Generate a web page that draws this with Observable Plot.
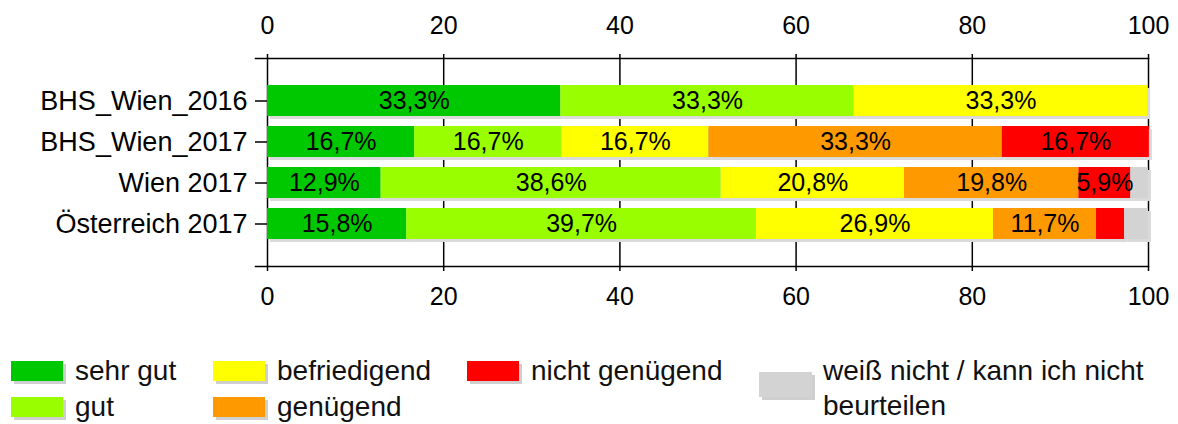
<!DOCTYPE html>
<html><head><meta charset="utf-8">
<script src="https://cdn.jsdelivr.net/npm/d3@7"></script>
<script src="https://cdn.jsdelivr.net/npm/@observablehq/plot@0.6"></script>
<style>
body{margin:0;background:#fff;font-family:"Liberation Sans",Arial,sans-serif;position:relative;width:1178px;height:424px;overflow:hidden}
#chart svg{display:block}
.lg{position:absolute;font-size:28px;line-height:35px;color:#111;white-space:nowrap}
.sw{position:absolute;box-shadow:3px 3px 0 #cfcfcf}
</style></head><body><div id="chart"></div><div id="legend"></div>
<script>
const categories = ["BHS_Wien_2016", "BHS_Wien_2017", "Wien 2017", "Österreich 2017"];
const grades = ["sehr gut", "gut", "befriedigend", "genügend", "nicht genügend", "weiß nicht / kann ich nicht beurteilen"];
const colors = ["#00c800", "#99ff00", "#ffff00", "#ff9900", "#ff0000", "#d3d3d3"];
const sehrGut = [33.3, 16.7, 12.9, 15.8];
const gut = [33.3, 16.7, 38.6, 39.7];
const befriedigend = [33.3, 16.7, 20.8, 26.9];
const genuegend = [0, 33.3, 19.8, 11.7];
const nichtGenuegend = [0, 16.7, 5.9, 3.2];
const weissNicht = [0, 0, 2.0, 2.7];
const xTicks = [0, 20, 40, 60, 80, 100];

const series = [sehrGut, gut, befriedigend, genuegend, nichtGenuegend, weissNicht];
const data = [];
categories.forEach((c, i) => series.forEach((s, j) => {
  if (s[i] > 0) data.push({cat: c, grade: grades[j], value: s[i]});
}));
const fmt = v => v.toFixed(1).replace(".", ",") + "%";

const plot = Plot.plot({
  width: 1178, height: 340,
  marginLeft: 267, marginRight: 30, marginTop: 58, marginBottom: 74,
  style: {fontFamily: "Liberation Sans, Arial, sans-serif", fontSize: "25px", color: "#000", background: "transparent"},
  x: {domain: [0, 100], axis: null},
  y: {domain: categories, paddingInner: 0.245, paddingOuter: 0.62, axis: null},
  color: {domain: grades, range: colors},
  marks: [
    Plot.gridX(xTicks, {stroke: "#000", strokeOpacity: 1, strokeWidth: 1.5}),
    Plot.barX(data, Plot.stackX({y: "cat", x: "value", fill: "#dadada", dx: 3, dy: 3})),
    Plot.barX(data, Plot.stackX({y: "cat", x: "value", fill: "grade"})),
    Plot.text(data, Plot.stackX({y: "cat", x: "value", text: d => d.value >= 5 ? fmt(d.value) : "", fontSize: 25, fill: "#000"})),
    Plot.frame({anchor: "top", insetLeft: -12, stroke: "#000", strokeWidth: 1.5}),
    Plot.frame({anchor: "bottom", insetLeft: -12, stroke: "#000", strokeWidth: 1.5}),
    Plot.axisX(xTicks, {anchor: "top", label: null, tickSize: 5, tickPadding: 20, fontSize: 25, strokeWidth: 1.5, fill: "#000"}),
    Plot.axisX(xTicks, {anchor: "bottom", label: null, tickSize: 5, tickPadding: 16, fontSize: 25, strokeWidth: 1.5, fill: "#000"}),
    Plot.axisY({label: null, tickSize: 12, tickPadding: 8, fontSize: 27, strokeWidth: 1.5, fill: "#000"})
  ]
});
document.getElementById("chart").appendChild(plot);

// legend
const legend = document.getElementById("legend");
const colX = [11, 213, 467];
grades.forEach((g, i) => {
  let sx, sy, sw = 52, sh = 20, tx, ty;
  if (i < 5) {
    const col = Math.floor(i / 2), row = i % 2;
    sx = colX[col]; sy = 361 + row * 36; tx = sx + 64; ty = 353 + row * 36;
  } else {
    sx = 759; sy = 372; sw = 53; sh = 25; tx = 823; ty = 353;
  }
  const s = document.createElement("div");
  s.className = "sw";
  s.style.cssText = `left:${sx}px;top:${sy}px;width:${sw}px;height:${sh}px;background:${colors[i]}`;
  legend.appendChild(s);
  const t = document.createElement("div");
  t.className = "lg";
  t.style.left = tx + "px"; t.style.top = ty + "px";
  if (i === 5) { t.innerHTML = "weiß nicht / kann ich nicht<br>beurteilen"; } else { t.textContent = g; }
  legend.appendChild(t);
});
</script></body></html>
